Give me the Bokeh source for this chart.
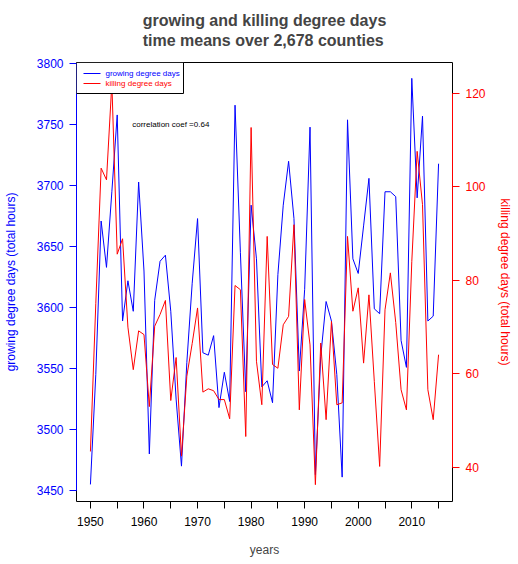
from bokeh.plotting import figure
from bokeh.models import Range1d, LinearAxis, Title, Label, FixedTicker, BoxAnnotation
from bokeh.embed import file_html
from bokeh.resources import INLINE

# ---------------- data ----------------
years = list(range(1950, 2016))
gdd = [3455, 3545, 3671, 3633, 3695, 3758, 3589, 3622, 3597, 3703,
       3630, 3480, 3606, 3638, 3643, 3597, 3525, 3470, 3555, 3620,
       3673, 3563, 3561, 3577, 3518, 3547, 3523, 3766, 3645, 3531,
       3684, 3640, 3535, 3540, 3522, 3627, 3684, 3720, 3673, 3548,
       3615, 3748, 3463, 3560, 3605, 3589, 3545, 3461, 3754, 3640,
       3628, 3667, 3706, 3599, 3595, 3695, 3695, 3691, 3573, 3551,
       3788, 3690, 3757, 3589, 3593, 3718]
kdd = [43.4, 75.0, 104.0, 101.5, 122.2, 85.6, 88.9, 70.0, 60.9, 69.2,
       68.4, 53.0, 70.2, 72.7, 75.7, 54.3, 63.5, 42.4, 59.5, 66.5,
       74.1, 56.1, 56.8, 56.4, 54.5, 54.5, 50.4, 78.9, 78.0, 46.6,
       112.7, 62.7, 53.4, 89.4, 62.0, 61.2, 70.5, 72.3, 91.9, 52.3,
       75.9, 66.2, 36.3, 66.6, 50.2, 71.2, 53.4, 53.8, 89.4, 73.4,
       78.4, 62.3, 76.9, 58.4, 40.2, 73.7, 81.6, 71.0, 56.6, 52.3,
       84.0, 107.6, 96.2, 56.6, 50.2, 64.1]
x_ticks = [1950, 1955, 1960, 1965, 1970, 1975, 1980, 1985, 1990, 1995, 2000, 2005, 2010, 2015]
x_labels = ["1950", "", "1960", "", "1970", "", "1980", "", "1990", "", "2000", "", "2010", ""]
left_ticks = [3450, 3500, 3550, 3600, 3650, 3700, 3750, 3800]
right_ticks = [40, 60, 80, 100, 120]
series_names = ["growing degree days", "killing degree days"]
series_colors = ["blue", "red"]
corr_text = "correlation coef =0.64"
corr_pos = (1965, 3750)

FONT = "Liberation Sans"
FRAME_W, FRAME_H = 376, 439
X0, X1 = 1947.4, 2017.6
Y0, Y1 = 3441, 3801

p = figure(frame_width=FRAME_W, frame_height=FRAME_H,
           output_backend="svg", toolbar_location=None, title=None,
           x_range=Range1d(X0, X1), y_range=Range1d(Y0, Y1))
p.xgrid.visible = False
p.ygrid.visible = False
p.outline_line_color = "black"
p.outline_line_width = 1
p.background_fill_color = "white"
p.border_fill_color = "white"

# x axis
xa = p.xaxis[0]
xa.ticker = FixedTicker(ticks=x_ticks)
xa.major_label_overrides = {t: l for t, l in zip(x_ticks, x_labels)}
xa.bounds = (x_ticks[0], x_ticks[-1])
xa.axis_line_color = "black"
xa.major_tick_in = 0
xa.major_tick_out = 7
xa.minor_tick_line_color = None
xa.major_label_text_font = FONT
xa.major_label_text_font_size = "12px"
xa.major_label_text_color = "black"
xa.major_label_standoff = 8
xa.axis_label = "years"
xa.axis_label_text_font = FONT
xa.axis_label_text_font_size = "12px"
xa.axis_label_text_font_style = "normal"
xa.axis_label_standoff = 14

# left axis
ya = p.yaxis[0]
ya.ticker = FixedTicker(ticks=left_ticks)
ya.bounds = (left_ticks[0], left_ticks[-1])
ya.axis_line_color = "blue"
ya.major_tick_line_color = "blue"
ya.major_tick_in = 0
ya.major_tick_out = 7
ya.minor_tick_line_color = None
ya.major_label_text_color = "blue"
ya.major_label_text_font = FONT
ya.major_label_text_font_size = "12px"
ya.major_label_standoff = 6
ya.axis_label = "growing degree days (total hours)"
ya.axis_label_text_color = "blue"
ya.axis_label_text_font = FONT
ya.axis_label_text_font_size = "12px"
ya.axis_label_text_font_style = "normal"
ya.axis_label_standoff = 16

# right axis
p.extra_y_ranges = {"kdd": Range1d(32.7, 126.6)}
ra = LinearAxis(y_range_name="kdd")
ra.ticker = FixedTicker(ticks=right_ticks)
ra.bounds = (right_ticks[0], right_ticks[-1])
ra.axis_line_color = "red"
ra.major_tick_line_color = "red"
ra.major_tick_in = 0
ra.major_tick_out = 7
ra.minor_tick_line_color = None
ra.major_label_text_color = "red"
ra.major_label_text_font = FONT
ra.major_label_text_font_size = "12px"
ra.major_label_standoff = 6
ra.axis_label = "killing degree days (total hours)"
ra.axis_label_text_color = "red"
ra.axis_label_text_font = FONT
ra.axis_label_text_font_size = "12px"
ra.axis_label_text_font_style = "normal"
ra.axis_label_standoff = 9
p.add_layout(ra, "right")

# lines
p.line(years, gdd, line_color=series_colors[0], line_width=1)
p.line(years, kdd, line_color=series_colors[1], line_width=1, y_range_name="kdd")

# correlation annotation
p.add_layout(Label(x=corr_pos[0], y=corr_pos[1], text=corr_text, text_font=FONT,
                   text_font_size="8px", text_align="center", text_baseline="middle",
                   text_color="black"))

# legend drawn as an annotation anchored at the frame's top-left corner
def fx(px):
    return X0 + px * (X1 - X0) / FRAME_W

def fy(px_from_top):
    return Y1 - px_from_top * (Y1 - Y0) / FRAME_H

LEG_W, LEG_H, ROW0, ROW_STEP = 107, 31, 11, 10
p.add_layout(BoxAnnotation(left=fx(0), right=fx(LEG_W), top=fy(0), bottom=fy(LEG_H),
                           fill_color="white", fill_alpha=1, line_color="black",
                           line_width=1, line_alpha=1))
for i, (name, col) in enumerate(zip(series_names, series_colors)):
    yy = fy(ROW0 + i * ROW_STEP)
    p.line([fx(7), fx(24)], [yy, yy], line_color=col, line_width=1, level="overlay")
    p.add_layout(Label(x=fx(29), y=yy, text=name, text_font=FONT, text_font_size="8px",
                       text_color=col, text_baseline="middle", text_align="left",
                       level="overlay"))

# two-line title
p.add_layout(Title(text="growing and killing degree days\ntime means over 2,678 counties",
                   align="center", vertical_align="top", text_font=FONT,
                   text_font_size="16px", text_font_style="bold", text_line_height=1.2,
                   standoff=23), "above")

open("out.html", "w").write(file_html(p, INLINE))
